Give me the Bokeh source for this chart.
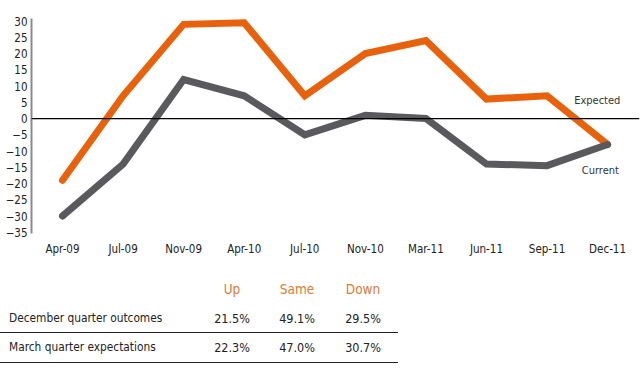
from bokeh.plotting import figure
from bokeh.models import Range1d, FixedTicker, Span, Label, Div
from bokeh.layouts import column
from bokeh.embed import file_html
from bokeh.resources import INLINE

# ---- data ----
periods = ["Apr-09", "Jul-09", "Nov-09", "Apr-10", "Jul-10",
           "Nov-10", "Mar-11", "Jun-11", "Sep-11", "Dec-11"]
expected = [-19, 7, 29, 29.5, 7, 20, 24, 6, 7, -8]
current = [-30, -14, 12, 7, -5, 1, 0, -14, -14.5, -8]
y_ticks = [30, 25, 20, 15, 10, 5, 0, -5, -10, -15, -20, -25, -30, -35]

table_cols = ["Up", "Same", "Down"]
table_rows = ["December quarter outcomes", "March quarter expectations"]
row_dec = ["21.5%", "49.1%", "29.5%"]
row_mar = ["22.3%", "47.0%", "30.7%"]

FONT = "DejaVu Sans Condensed, Liberation Sans Narrow, Roboto, sans-serif"
ORANGE = "#E8620E"
GRAY = "#5A5A5C"

# ---- layout constants (canvas pixels) ----
W = 640
CHART_H = 270
TABLE_H = 111
FRAME_LEFT, FRAME_TOP, FRAME_BOTTOM = 31, 18, 235

xi = list(range(len(periods)))
p = figure(width=W, height=CHART_H, output_backend="svg", toolbar_location=None,
           x_range=Range1d(-0.512, 9.527), y_range=Range1d(-36, 30.8),
           min_border_left=FRAME_LEFT, min_border_right=1, min_border_top=FRAME_TOP,
           min_border_bottom=CHART_H - FRAME_BOTTOM)
p.outline_line_color = None
p.xgrid.grid_line_color = None
p.ygrid.grid_line_color = None

p.xaxis.ticker = FixedTicker(ticks=xi)
p.xaxis.major_label_overrides = {i: s for i, s in zip(xi, periods)}
p.xaxis.axis_line_color = None
p.xaxis.major_tick_line_color = None
p.xaxis.minor_tick_line_color = None
p.xaxis.major_tick_out = 0
p.xaxis.minor_tick_out = 0
p.xaxis.major_label_standoff = 6
p.xaxis.major_label_text_font = FONT
p.xaxis.major_label_text_font_size = "11.5px"
p.xaxis.major_label_text_color = "#222222"

p.yaxis.ticker = FixedTicker(ticks=y_ticks)
p.yaxis.bounds = (-35.5, 30.7)
p.yaxis.axis_line_color = "#8a8a8a"
p.yaxis.axis_line_width = 2
p.yaxis.major_tick_line_color = None
p.yaxis.minor_tick_line_color = None
p.yaxis.major_tick_out = 0
p.yaxis.minor_tick_out = 0
p.yaxis.major_label_standoff = 4
p.yaxis.major_label_text_font = FONT
p.yaxis.major_label_text_font_size = "11.5px"
p.yaxis.major_label_text_color = "#222222"

p.add_layout(Span(location=0, dimension="width", line_color="black", line_width=1.2))

p.line(xi, expected, line_color=ORANGE, line_width=7, line_join="miter", line_cap="round")
p.line(xi, current, line_color=GRAY, line_width=7, line_join="miter", line_cap="round")

p.add_layout(Label(x=8.83, y=5.5, text="Expected", text_align="center", text_baseline="middle",
                   text_font=FONT, text_font_size="11px", text_color="#333333"))
p.add_layout(Label(x=8.88, y=-16, text="Current", text_align="center", text_baseline="middle",
                   text_font=FONT, text_font_size="11px", text_color="#333333"))

# ---- table (HTML, positions in page pixels relative to the table's top) ----
col_x = [232, 297, 363]
header_y = 290 - CHART_H
row_y = [319 - CHART_H, 348 - CHART_H]
line_y = [332 - CHART_H, 362 - CHART_H]
label_x = 9
rule_w = 398


def text_span(x, y, txt, size, color, center=True, weight="normal"):
    tx = "-50%" if center else "0"
    return (f'<span style="position:absolute;left:{x}px;top:{y}px;'
            f'transform:translate({tx},-50%);font-family:{FONT};font-size:{size};'
            f'font-weight:{weight};color:{color};white-space:nowrap;line-height:1;">{txt}</span>')


parts = []
for cx, lab in zip(col_x, table_cols):
    parts.append(text_span(cx, header_y, lab, "13.5px", "#DD7A33"))
for ry, lab, vals in zip(row_y, table_rows, [row_dec, row_mar]):
    parts.append(text_span(label_x, ry, lab, "11.8px", "#222222", center=False))
    for cx, v in zip(col_x, vals):
        parts.append(text_span(cx, ry, v, "12.5px", "#222222"))
for ly in line_y:
    parts.append(f'<div style="position:absolute;left:0px;top:{ly}px;width:{rule_w}px;'
                 f'height:1.3px;background:#222222;"></div>')

html = (f'<div style="position:relative;width:{W}px;height:{TABLE_H}px;margin:0;padding:0;">'
        + "".join(parts) + "</div>")
table = Div(text=html, width=W, height=TABLE_H, margin=0)

layout = column(p, table, spacing=0)
open("out.html", "w").write(file_html(layout, INLINE))
